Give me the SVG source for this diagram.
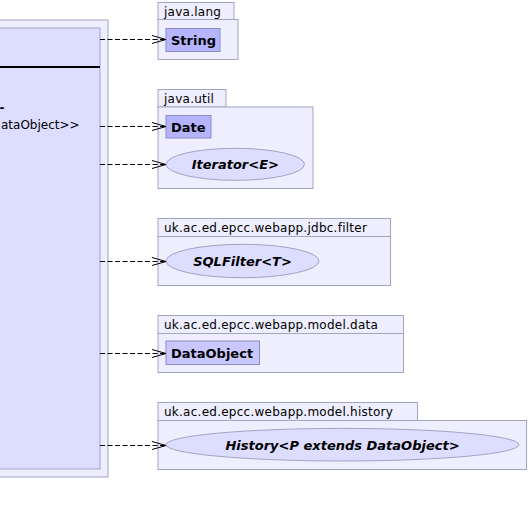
<svg xmlns="http://www.w3.org/2000/svg" width="529" height="515" viewBox="0 0 529 515">
<style>
.pkg{fill:#EEEEFF;stroke:#A3A3C2;stroke-width:1}
.cls{fill:#B4B4FF;stroke:#8C8CC0;stroke-width:1}
.cls2{fill:#C8C8FF;stroke:#8C8CC0;stroke-width:1}
.ell{fill:#DDDDFF;stroke:#A3A3C2;stroke-width:1}
.plab{font-family:"DejaVu Sans",sans-serif;font-size:12px;fill:#000;letter-spacing:0.25px}
.mtx{font-family:"DejaVu Sans",sans-serif;font-size:12px;fill:#000}
.cn{font-family:"DejaVu Sans",sans-serif;font-size:13px;font-weight:bold;fill:#000}
.en{font-family:"DejaVu Sans",sans-serif;font-size:13px;font-weight:bold;font-style:italic;fill:#000}
.dep{stroke:#000;stroke-width:1;stroke-dasharray:5,2.5;fill:none}
.head{stroke:#000;stroke-width:1;fill:none}
</style>
<rect width="529" height="515" fill="#FFFFFF"/>
<g id="main">
<rect x="-10" y="20" width="118" height="457" class="pkg"/>
<rect x="-10" y="28" width="110" height="441" fill="#DDDDFF" stroke="#A3A3C2"/>
<line x1="-10" y1="67" x2="100" y2="67" stroke="#000" stroke-width="2"/>
<text x="-0.5" y="111.5" class="mtx" font-weight="bold">-</text>
<text x="1" y="129" class="mtx">ataObject&gt;&gt;</text>
</g>
<g id="pkg-java-lang">
<rect x="158" y="2.5" width="76" height="17" class="pkg"/>
<rect x="158" y="19.5" width="80" height="40" class="pkg"/>
<text x="164" y="15.5" class="plab">java.lang</text>
</g>
<g id="String">
<rect x="166" y="28.5" width="54" height="23" class="cls"/>
<text x="171" y="44.5" class="cn">String</text>
</g>
<g id="pkg-java-util">
<rect x="158" y="89.5" width="68" height="17.5" class="pkg"/>
<rect x="158" y="107" width="155" height="81.5" class="pkg"/>
<text x="164" y="102.5" class="plab">java.util</text>
</g>
<g id="Date">
<rect x="166" y="115.5" width="45" height="22.5" class="cls"/>
<text x="171" y="131.5" class="cn">Date</text>
</g>
<g id="Iterator">
<ellipse cx="235.3" cy="164.3" rx="69.2" ry="16" class="ell"/>
<text x="235.3" y="169" class="en" text-anchor="middle">Iterator&lt;E&gt;</text>
</g>
<g id="pkg-jdbc-filter">
<rect x="158" y="218.5" width="232.5" height="18" class="pkg"/>
<rect x="158" y="236.5" width="232.5" height="49" class="pkg"/>
<text x="164" y="231.5" class="plab">uk.ac.ed.epcc.webapp.jdbc.filter</text>
</g>
<g id="SQLFilter">
<ellipse cx="242.5" cy="261" rx="76.5" ry="16.7" class="ell"/>
<text x="242.5" y="265.5" class="en" text-anchor="middle">SQLFilter&lt;T&gt;</text>
</g>
<g id="pkg-model-data">
<rect x="158" y="315.5" width="245.5" height="18" class="pkg"/>
<rect x="158" y="333.5" width="245.5" height="39" class="pkg"/>
<text x="164" y="328.5" class="plab">uk.ac.ed.epcc.webapp.model.data</text>
</g>
<g id="DataObject">
<rect x="166" y="341" width="93.5" height="23.5" class="cls2"/>
<text x="171" y="357.5" class="cn">DataObject</text>
</g>
<g id="pkg-model-history">
<rect x="158" y="402.5" width="259.5" height="18" class="pkg"/>
<rect x="158" y="420.5" width="368.5" height="49" class="pkg"/>
<text x="164" y="415.5" class="plab">uk.ac.ed.epcc.webapp.model.history</text>
</g>
<g id="History">
<ellipse cx="342.5" cy="444.7" rx="176.5" ry="16.3" class="ell"/>
<text x="342.5" y="449.5" class="en" text-anchor="middle">History&lt;P extends DataObject&gt;</text>
</g>
<g id="connectors">
<line x1="100" y1="39.5" x2="165" y2="39.5" class="dep"/>
<path d="M152,35.5 L166,39.5 L152,43.5" class="head"/>
<line x1="100" y1="126.5" x2="165" y2="126.5" class="dep"/>
<path d="M152,122.5 L166,126.5 L152,130.5" class="head"/>
<line x1="100" y1="164.5" x2="165" y2="164.5" class="dep"/>
<path d="M152,160.5 L166,164.5 L152,168.5" class="head"/>
<line x1="100" y1="261.5" x2="165" y2="261.5" class="dep"/>
<path d="M152,257.5 L166,261.5 L152,265.5" class="head"/>
<line x1="100" y1="353.5" x2="165" y2="353.5" class="dep"/>
<path d="M152,349.5 L166,353.5 L152,357.5" class="head"/>
<line x1="100" y1="445.5" x2="165" y2="445.5" class="dep"/>
<path d="M152,441.5 L166,445.5 L152,449.5" class="head"/>
</g>
</svg>
